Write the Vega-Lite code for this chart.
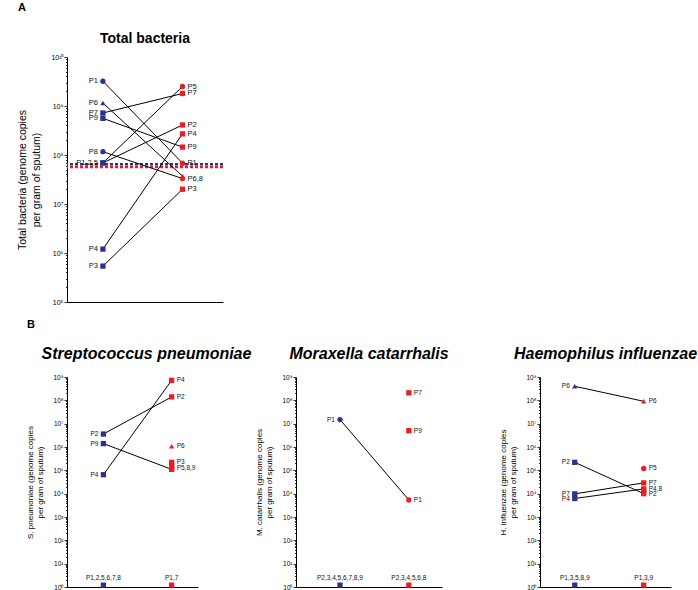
{
  "$schema": "https://vega.github.io/schema/vega-lite/v6.json",
  "padding": {"left": 17, "top": 2, "right": 0, "bottom": 0},
  "title": {"text": "A", "anchor": "start", "fontSize": 11, "fontWeight": "bold", "offset": 19, "font": "Liberation Sans", "color": "#000"},
  "data": {"values": [
    {"p":"TB","time":"Before","v":6.5e7,"ref":true},
    {"p":"TB","time":"After","v":5.7e7,"ref":true},
    {"p":"TB","time":"Before","v":3.2e9,"shape":"circle","lab":"P1","line":"P1"},
    {"p":"TB","time":"Before","v":1.15e9,"shape":"triangle-up","lab":"P6","line":"P6"},
    {"p":"TB","time":"Before","v":7.2e8,"shape":"square","lab":"P7","line":"P7"},
    {"p":"TB","time":"Before","v":5.6e8,"shape":"square","lab":"P9","line":"P9"},
    {"p":"TB","time":"Before","v":1.17e8,"shape":"circle","lab":"P8","line":"P8"},
    {"p":"TB","time":"Before","v":6.9e7,"shape":"square","lab":"P1,2,5","line":"P2"},
    {"p":"TB","time":"Before","v":6.9e7,"shape":"square","lab":"","line":"P5"},
    {"p":"TB","time":"Before","v":1.2e6,"shape":"square","lab":"P4","line":"P4"},
    {"p":"TB","time":"Before","v":5.4e5,"shape":"square","lab":"P3","line":"P3"},
    {"p":"TB","time":"After","v":2.5e9,"shape":"circle","lab":"P5","line":"P5"},
    {"p":"TB","time":"After","v":1.8e9,"shape":"square","lab":"P7","line":"P7"},
    {"p":"TB","time":"After","v":4.1e8,"shape":"square","lab":"P2","line":"P2"},
    {"p":"TB","time":"After","v":2.7e8,"shape":"square","lab":"P4","line":"P4"},
    {"p":"TB","time":"After","v":1.45e8,"shape":"square","lab":"P9","line":"P9"},
    {"p":"TB","time":"After","v":6.8e7,"shape":"circle","lab":"P1","line":"P1"},
    {"p":"TB","time":"After","v":3.7e7,"shape":"triangle-up","lab":"","line":"P6"},
    {"p":"TB","time":"After","v":3.3e7,"shape":"circle","lab":"P6,8","line":"P8"},
    {"p":"TB","time":"After","v":2.0e7,"shape":"square","lab":"P3","line":"P3"},
    {"p":"SP","time":"Before","v":3.6e6,"shape":"square","lab":"P2","line":"P2"},
    {"p":"SP","time":"Before","v":1.4e6,"shape":"square","lab":"P9","line":"P9"},
    {"p":"SP","time":"Before","v":6.5e4,"shape":"square","lab":"P4","line":"P4"},
    {"p":"SP","time":"Before","v":1.2,"shape":"square","lab":"P1,2,5,6,7,8","bot":true},
    {"p":"SP","time":"After","v":7.2e8,"shape":"square","lab":"P4","line":"P4"},
    {"p":"SP","time":"After","v":1.4e8,"shape":"square","lab":"P2","line":"P2"},
    {"p":"SP","time":"After","v":1.07e6,"shape":"triangle-up","lab":"P6"},
    {"p":"SP","time":"After","v":2.2e5,"shape":"square","lab":"P3"},
    {"p":"SP","time":"After","v":1.6e5,"shape":"square","lab":""},
    {"p":"SP","time":"After","v":1.3e5,"shape":"square","lab":"P5,8,9"},
    {"p":"SP","time":"After","v":1.1e5,"shape":"square","lab":"","line":"P9"},
    {"p":"SP","time":"After","v":1.2,"shape":"square","lab":"P1,7","bot":true},
    {"p":"MC","time":"Before","v":1.5e7,"shape":"circle","lab":"P1","line":"P1"},
    {"p":"MC","time":"Before","v":1.2,"shape":"square","lab":"P2,3,4,5,6,7,8,9","bot":true},
    {"p":"MC","time":"After","v":2.1e8,"shape":"square","lab":"P7"},
    {"p":"MC","time":"After","v":5e6,"shape":"square","lab":"P9"},
    {"p":"MC","time":"After","v":5.4e3,"shape":"circle","lab":"P1","line":"P1"},
    {"p":"MC","time":"After","v":1.2,"shape":"square","lab":"P2,3,4,5,6,8","bot":true},
    {"p":"HI","time":"Before","v":4e8,"shape":"triangle-up","lab":"P6","line":"P6"},
    {"p":"HI","time":"Before","v":2.2e5,"shape":"square","lab":"P2","line":"P2"},
    {"p":"HI","time":"Before","v":9.8e3,"shape":"square","lab":"P7","line":"P7"},
    {"p":"HI","time":"Before","v":6.2e3,"shape":"square","lab":"P4","line":"P4"},
    {"p":"HI","time":"Before","v":1.2,"shape":"square","lab":"P1,3,5,8,9","bot":true},
    {"p":"HI","time":"After","v":9.1e7,"shape":"triangle-up","lab":"P6","line":"P6"},
    {"p":"HI","time":"After","v":1.2e5,"shape":"circle","lab":"P5"},
    {"p":"HI","time":"After","v":2.9e4,"shape":"square","lab":"P7","line":"P7"},
    {"p":"HI","time":"After","v":1.6e4,"shape":"square","lab":"P4,8","line":"P4"},
    {"p":"HI","time":"After","v":1.3e4,"shape":"square","lab":""},
    {"p":"HI","time":"After","v":1.0e4,"shape":"square","lab":"P2","line":"P2"},
    {"p":"HI","time":"After","v":1.2,"shape":"square","lab":"P1,3,9","bot":true}
  ]},
  "bounds": "flush",
  "spacing": 75,
  "vconcat": [
    {
      "width": 156, "height": 245,
      "title": {"text": "Total bacteria", "fontSize": 14, "fontWeight": "bold", "frame": "group", "offset": 7, "font": "Liberation Sans", "color": "#000"},
      "transform": [{"filter": "datum.p=='TB'"}],
      "resolve": {"axis": {"y": "independent"}},
      "layer": [
        {
          "transform": [{"filter": "datum.ref"}],
          "mark": {"type": "rule", "strokeDash": [3, 2], "strokeWidth": 2.5},
          "encoding": {
            "y": {"field": "v", "type": "quantitative", "scale": {"type": "log", "domain": [1e5, 1e10]}, "axis": null},
            "color": {"field": "time", "type": "nominal", "scale": {"domain": ["Before", "After"], "range": ["#2E3192", "#ED1C24"]}, "legend": null}
          }
        },
        {
          "transform": [{"filter": "isValid(datum.line)"}],
          "mark": {"type": "line", "color": "#000", "strokeWidth": 1},
          "encoding": {
            "x": {"field": "time", "type": "nominal", "scale": {"type": "point", "domain": ["Before", "After"], "padding": 0.48, "align": 0.47}, "axis": {"title": null, "labels": false, "ticks": false, "domain": true}},
            "y": {"field": "v", "type": "quantitative", "scale": {"type": "log", "domain": [1e5, 1e10]},
                  "axis": {"orient": "left", "values": [1e5, 1e6, 1e7, 1e8, 1e9, 1e10],
                           "labelExpr": "'10' + (round(log(datum.value)/LN10) == 10 ? '¹⁰' : ['⁰','¹','²','³','⁴','⁵','⁶','⁷','⁸','⁹'][round(log(datum.value)/LN10)])",
                           "title": ["Total bacteria (genome copies", "per gram of sputum)"],
                           "titleFontSize": 10.5, "titleLineHeight": 14, "titlePadding": 9, "labelFontSize": 7, "tickSize": 3, "labelPadding": 1}},
            "detail": {"field": "line"}
          }
        },
        {
          "transform": [{"filter": "!datum.ref"}],
          "mark": {"type": "point", "filled": true, "opacity": 1, "size": 28},
          "encoding": {
            "x": {"field": "time", "type": "nominal"},
            "y": {"field": "v", "type": "quantitative", "scale": {"type": "log", "domain": [1e5, 1e10]},
                  "axis": {"orient": "left", "labels": false, "domain": false, "title": null, "tickSize": 1.5,
                           "values": [2e5,3e5,4e5,5e5,6e5,7e5,8e5,9e5,2e6,3e6,4e6,5e6,6e6,7e6,8e6,9e6,2e7,3e7,4e7,5e7,6e7,7e7,8e7,9e7,2e8,3e8,4e8,5e8,6e8,7e8,8e8,9e8,2e9,3e9,4e9,5e9,6e9,7e9,8e9,9e9]}},
            "shape": {"field": "shape", "type": "nominal", "scale": null},
            "color": {"field": "time", "type": "nominal", "scale": {"domain": ["Before", "After"], "range": ["#2E3192", "#ED1C24"]}, "legend": null}
          }
        },
        {
          "transform": [{"filter": "datum.time=='Before' && datum.lab"}],
          "mark": {"type": "text", "align": "right", "baseline": "middle", "dx": -5, "fontSize": 7.5, "color": "#111"},
          "encoding": {
            "x": {"field": "time", "type": "nominal"},
            "y": {"field": "v", "type": "quantitative", "scale": {"type": "log", "domain": [1e5, 1e10]}, "axis": null},
            "text": {"field": "lab"}
          }
        },
        {
          "transform": [{"filter": "datum.time=='After' && datum.lab"}],
          "mark": {"type": "text", "align": "left", "baseline": "middle", "dx": 5, "fontSize": 7.5, "color": "#111"},
          "encoding": {
            "x": {"field": "time", "type": "nominal"},
            "y": {"field": "v", "type": "quantitative", "scale": {"type": "log", "domain": [1e5, 1e10]}, "axis": null},
            "text": {"field": "lab"}
          }
        }
      ]
    },
    {
      "title": {"text": "B", "anchor": "start", "fontSize": 11, "fontWeight": "bold", "offset": 16, "font": "Liberation Sans", "color": "#000"},
      "bounds": "flush",
      "spacing": 98,
      "hconcat": [
        {
          "width": 131, "height": 210,
          "title": {"text": "Streptococcus pneumoniae", "fontSize": 16, "fontWeight": "bold", "fontStyle": "italic", "frame": "group", "dx": 14, "offset": 12, "font": "Liberation Sans", "color": "#000"},
          "transform": [{"filter": "datum.p=='SP'"}],
          "resolve": {"axis": {"y": "independent"}},
          "layer": [
            {
              "transform": [{"filter": "isValid(datum.line)"}],
              "mark": {"type": "line", "color": "#000", "strokeWidth": 1},
              "encoding": {
                "x": {"field": "time", "type": "nominal", "scale": {"type": "point", "domain": ["Before", "After"], "padding": 0.46, "align": 0.58}, "axis": {"title": null, "labels": false, "ticks": false, "domain": true}},
                "y": {"field": "v", "type": "quantitative", "scale": {"type": "log", "domain": [1, 1e9]},
                      "axis": {"orient": "left", "values": [1, 10, 100, 1e3, 1e4, 1e5, 1e6, 1e7, 1e8, 1e9],
                               "labelExpr": "'10' + ['⁰','¹','²','³','⁴','⁵','⁶','⁷','⁸','⁹'][round(log(datum.value)/LN10)]",
                               "title": ["S. pneumoniae (genome copies", "per gram of sputum)"],
                               "titleFontSize": 8, "titleLineHeight": 10, "titlePadding": 8, "labelFontSize": 6.5, "tickSize": 3, "labelPadding": 1}},
                "detail": {"field": "line"}
              }
            },
            {
              "mark": {"type": "point", "filled": true, "opacity": 1, "size": 28},
              "encoding": {
                "x": {"field": "time", "type": "nominal"},
                "y": {"field": "v", "type": "quantitative", "scale": {"type": "log", "domain": [1, 1e9]},
                      "axis": {"orient": "left", "labels": false, "domain": false, "title": null, "tickSize": 1.5,
                               "values": [2,3,4,5,6,7,8,9,20,30,40,50,60,70,80,90,200,300,400,500,600,700,800,900,2e3,3e3,4e3,5e3,6e3,7e3,8e3,9e3,2e4,3e4,4e4,5e4,6e4,7e4,8e4,9e4,2e5,3e5,4e5,5e5,6e5,7e5,8e5,9e5,2e6,3e6,4e6,5e6,6e6,7e6,8e6,9e6,2e7,3e7,4e7,5e7,6e7,7e7,8e7,9e7,2e8,3e8,4e8,5e8,6e8,7e8,8e8,9e8]}},
                "shape": {"field": "shape", "type": "nominal", "scale": null},
                "color": {"field": "time", "type": "nominal", "scale": {"domain": ["Before", "After"], "range": ["#2E3192", "#ED1C24"]}, "legend": null}
              }
            },
            {
              "transform": [{"filter": "datum.time=='Before' && !datum.bot && datum.lab"}],
              "mark": {"type": "text", "align": "right", "baseline": "middle", "dx": -5, "fontSize": 6.5, "color": "#111"},
              "encoding": {"x": {"field": "time", "type": "nominal"}, "y": {"field": "v", "type": "quantitative", "scale": {"type": "log", "domain": [1, 1e9]}, "axis": null}, "text": {"field": "lab"}}
            },
            {
              "transform": [{"filter": "datum.time=='After' && !datum.bot && datum.lab"}],
              "mark": {"type": "text", "align": "left", "baseline": "middle", "dx": 5, "fontSize": 6.5, "color": "#111"},
              "encoding": {"x": {"field": "time", "type": "nominal"}, "y": {"field": "v", "type": "quantitative", "scale": {"type": "log", "domain": [1, 1e9]}, "axis": null}, "text": {"field": "lab"}}
            },
            {
              "transform": [{"filter": "datum.bot"}],
              "mark": {"type": "text", "align": "center", "baseline": "bottom", "dy": -4, "fontSize": 6.5, "color": "#111"},
              "encoding": {"x": {"field": "time", "type": "nominal"}, "y": {"field": "v", "type": "quantitative", "scale": {"type": "log", "domain": [1, 1e9]}, "axis": null}, "text": {"field": "lab"}}
            }
          ]
        },
        {
          "width": 146, "height": 210,
          "title": {"text": "Moraxella catarrhalis", "fontSize": 16, "fontWeight": "bold", "fontStyle": "italic", "frame": "group", "offset": 12, "font": "Liberation Sans", "color": "#000"},
          "transform": [{"filter": "datum.p=='MC'"}],
          "resolve": {"axis": {"y": "independent"}},
          "layer": [
            {
              "transform": [{"filter": "isValid(datum.line)"}],
              "mark": {"type": "line", "color": "#000", "strokeWidth": 1},
              "encoding": {
                "x": {"field": "time", "type": "nominal", "scale": {"type": "point", "domain": ["Before", "After"], "padding": 0.56, "align": 0.57}, "axis": {"title": null, "labels": false, "ticks": false, "domain": true}},
                "y": {"field": "v", "type": "quantitative", "scale": {"type": "log", "domain": [1, 1e9]},
                      "axis": {"orient": "left", "values": [1, 10, 100, 1e3, 1e4, 1e5, 1e6, 1e7, 1e8, 1e9],
                               "labelExpr": "'10' + ['⁰','¹','²','³','⁴','⁵','⁶','⁷','⁸','⁹'][round(log(datum.value)/LN10)]",
                               "title": ["M. catarrhalis (genome copies", "per gram of sputum)"],
                               "titleFontSize": 8, "titleLineHeight": 10, "titlePadding": 8, "labelFontSize": 6.5, "tickSize": 3, "labelPadding": 1}},
                "detail": {"field": "line"}
              }
            },
            {
              "mark": {"type": "point", "filled": true, "opacity": 1, "size": 28},
              "encoding": {
                "x": {"field": "time", "type": "nominal"},
                "y": {"field": "v", "type": "quantitative", "scale": {"type": "log", "domain": [1, 1e9]},
                      "axis": {"orient": "left", "labels": false, "domain": false, "title": null, "tickSize": 1.5,
                               "values": [2,3,4,5,6,7,8,9,20,30,40,50,60,70,80,90,200,300,400,500,600,700,800,900,2e3,3e3,4e3,5e3,6e3,7e3,8e3,9e3,2e4,3e4,4e4,5e4,6e4,7e4,8e4,9e4,2e5,3e5,4e5,5e5,6e5,7e5,8e5,9e5,2e6,3e6,4e6,5e6,6e6,7e6,8e6,9e6,2e7,3e7,4e7,5e7,6e7,7e7,8e7,9e7,2e8,3e8,4e8,5e8,6e8,7e8,8e8,9e8]}},
                "shape": {"field": "shape", "type": "nominal", "scale": null},
                "color": {"field": "time", "type": "nominal", "scale": {"domain": ["Before", "After"], "range": ["#2E3192", "#ED1C24"]}, "legend": null}
              }
            },
            {
              "transform": [{"filter": "datum.time=='Before' && !datum.bot && datum.lab"}],
              "mark": {"type": "text", "align": "right", "baseline": "middle", "dx": -5, "fontSize": 6.5, "color": "#111"},
              "encoding": {"x": {"field": "time", "type": "nominal"}, "y": {"field": "v", "type": "quantitative", "scale": {"type": "log", "domain": [1, 1e9]}, "axis": null}, "text": {"field": "lab"}}
            },
            {
              "transform": [{"filter": "datum.time=='After' && !datum.bot && datum.lab"}],
              "mark": {"type": "text", "align": "left", "baseline": "middle", "dx": 5, "fontSize": 6.5, "color": "#111"},
              "encoding": {"x": {"field": "time", "type": "nominal"}, "y": {"field": "v", "type": "quantitative", "scale": {"type": "log", "domain": [1, 1e9]}, "axis": null}, "text": {"field": "lab"}}
            },
            {
              "transform": [{"filter": "datum.bot"}],
              "mark": {"type": "text", "align": "center", "baseline": "bottom", "dy": -4, "fontSize": 6.5, "color": "#111"},
              "encoding": {"x": {"field": "time", "type": "nominal"}, "y": {"field": "v", "type": "quantitative", "scale": {"type": "log", "domain": [1, 1e9]}, "axis": null}, "text": {"field": "lab"}}
            }
          ]
        },
        {
          "width": 131, "height": 210,
          "title": {"text": "Haemophilus influenzae", "fontSize": 16, "fontWeight": "bold", "fontStyle": "italic", "frame": "group", "offset": 12, "font": "Liberation Sans", "color": "#000"},
          "transform": [{"filter": "datum.p=='HI'"}],
          "resolve": {"axis": {"y": "independent"}},
          "layer": [
            {
              "transform": [{"filter": "isValid(datum.line)"}],
              "mark": {"type": "line", "color": "#000", "strokeWidth": 1},
              "encoding": {
                "x": {"field": "time", "type": "nominal", "scale": {"type": "point", "domain": ["Before", "After"], "padding": 0.45, "align": 0.56}, "axis": {"title": null, "labels": false, "ticks": false, "domain": true}},
                "y": {"field": "v", "type": "quantitative", "scale": {"type": "log", "domain": [1, 1e9]},
                      "axis": {"orient": "left", "values": [1, 10, 100, 1e3, 1e4, 1e5, 1e6, 1e7, 1e8, 1e9],
                               "labelExpr": "'10' + ['⁰','¹','²','³','⁴','⁵','⁶','⁷','⁸','⁹'][round(log(datum.value)/LN10)]",
                               "title": ["H. influenzae (genome copies", "per gram of sputum)"],
                               "titleFontSize": 8, "titleLineHeight": 10, "titlePadding": 8, "labelFontSize": 6.5, "tickSize": 3, "labelPadding": 1}},
                "detail": {"field": "line"}
              }
            },
            {
              "mark": {"type": "point", "filled": true, "opacity": 1, "size": 28},
              "encoding": {
                "x": {"field": "time", "type": "nominal"},
                "y": {"field": "v", "type": "quantitative", "scale": {"type": "log", "domain": [1, 1e9]},
                      "axis": {"orient": "left", "labels": false, "domain": false, "title": null, "tickSize": 1.5,
                               "values": [2,3,4,5,6,7,8,9,20,30,40,50,60,70,80,90,200,300,400,500,600,700,800,900,2e3,3e3,4e3,5e3,6e3,7e3,8e3,9e3,2e4,3e4,4e4,5e4,6e4,7e4,8e4,9e4,2e5,3e5,4e5,5e5,6e5,7e5,8e5,9e5,2e6,3e6,4e6,5e6,6e6,7e6,8e6,9e6,2e7,3e7,4e7,5e7,6e7,7e7,8e7,9e7,2e8,3e8,4e8,5e8,6e8,7e8,8e8,9e8]}},
                "shape": {"field": "shape", "type": "nominal", "scale": null},
                "color": {"field": "time", "type": "nominal", "scale": {"domain": ["Before", "After"], "range": ["#2E3192", "#ED1C24"]}, "legend": null}
              }
            },
            {
              "transform": [{"filter": "datum.time=='Before' && !datum.bot && datum.lab"}],
              "mark": {"type": "text", "align": "right", "baseline": "middle", "dx": -5, "fontSize": 6.5, "color": "#111"},
              "encoding": {"x": {"field": "time", "type": "nominal"}, "y": {"field": "v", "type": "quantitative", "scale": {"type": "log", "domain": [1, 1e9]}, "axis": null}, "text": {"field": "lab"}}
            },
            {
              "transform": [{"filter": "datum.time=='After' && !datum.bot && datum.lab"}],
              "mark": {"type": "text", "align": "left", "baseline": "middle", "dx": 5, "fontSize": 6.5, "color": "#111"},
              "encoding": {"x": {"field": "time", "type": "nominal"}, "y": {"field": "v", "type": "quantitative", "scale": {"type": "log", "domain": [1, 1e9]}, "axis": null}, "text": {"field": "lab"}}
            },
            {
              "transform": [{"filter": "datum.bot"}],
              "mark": {"type": "text", "align": "center", "baseline": "bottom", "dy": -4, "fontSize": 6.5, "color": "#111"},
              "encoding": {"x": {"field": "time", "type": "nominal"}, "y": {"field": "v", "type": "quantitative", "scale": {"type": "log", "domain": [1, 1e9]}, "axis": null}, "text": {"field": "lab"}}
            }
          ]
        }
      ]
    }
  ],
  "config": {
    "font": "Liberation Sans",
    "view": {"stroke": null},
    "axis": {"grid": false, "domainColor": "#000", "tickColor": "#000", "labelColor": "#000", "titleColor": "#000", "titleFontWeight": "normal", "tickWidth": 0.8, "domainWidth": 1, "labelFont": "Liberation Sans", "titleFont": "Liberation Sans"},
    "text": {"font": "Liberation Sans"}
  }
}
